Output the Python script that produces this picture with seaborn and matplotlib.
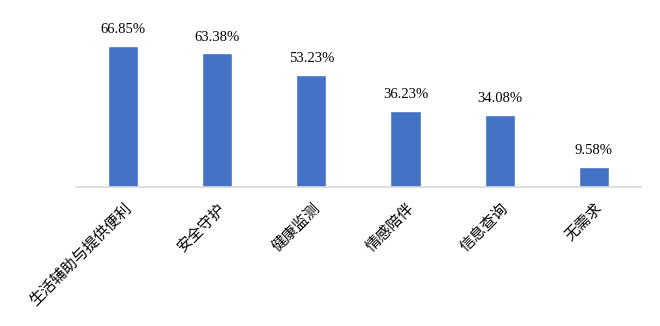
import matplotlib
matplotlib.use("Agg")
import matplotlib.pyplot as plt
import seaborn as sns
import pandas as pd

categories = ["生活辅助与提供便利", "安全守护", "健康监测", "情感陪伴", "信息查询", "无需求"]
values = [66.85, 63.38, 53.23, 36.23, 34.08, 9.58]
value_labels = ["66.85%", "63.38%", "53.23%", "36.23%", "34.08%", "9.58%"]

sns.set_theme(style="white")
plt.rcParams['font.family'] = ['Noto Sans CJK SC', 'DejaVu Sans']

df = pd.DataFrame({"cat": categories, "val": values})

fig = plt.figure(figsize=(6.6, 3.26), dpi=100)
ax = fig.add_axes([0.115, 0.4264, 0.856, 0.4526])
sns.barplot(data=df, x="cat", y="val", color="#4472C4", width=0.32,
            saturation=1, ax=ax)
ax.set_ylim(0, 70)
ax.set_xlim(-0.5, len(categories) - 0.5)
for s in ["top", "right", "left"]:
    ax.spines[s].set_visible(False)
ax.spines["bottom"].set_color("#d9d9d9")
ax.spines["bottom"].set_linewidth(1.2)
ax.set_yticks([])
ax.set_xlabel("")
ax.set_ylabel("")
ax.tick_params(axis="x", length=0, pad=9)
ax.set_xticks(range(len(categories)))
ax.set_xticklabels(categories, rotation=45, ha="right", rotation_mode="anchor",
                   fontsize=11, color="#000000")

for i, (v, lab) in enumerate(zip(values, value_labels)):
    ax.annotate(lab, (i, v), xytext=(0, 7), textcoords="offset points",
                ha="center", va="bottom", fontsize=10.5,
                family=["Liberation Serif"], color="#000000",
                annotation_clip=False)

fig.savefig("out.png", dpi=100)
